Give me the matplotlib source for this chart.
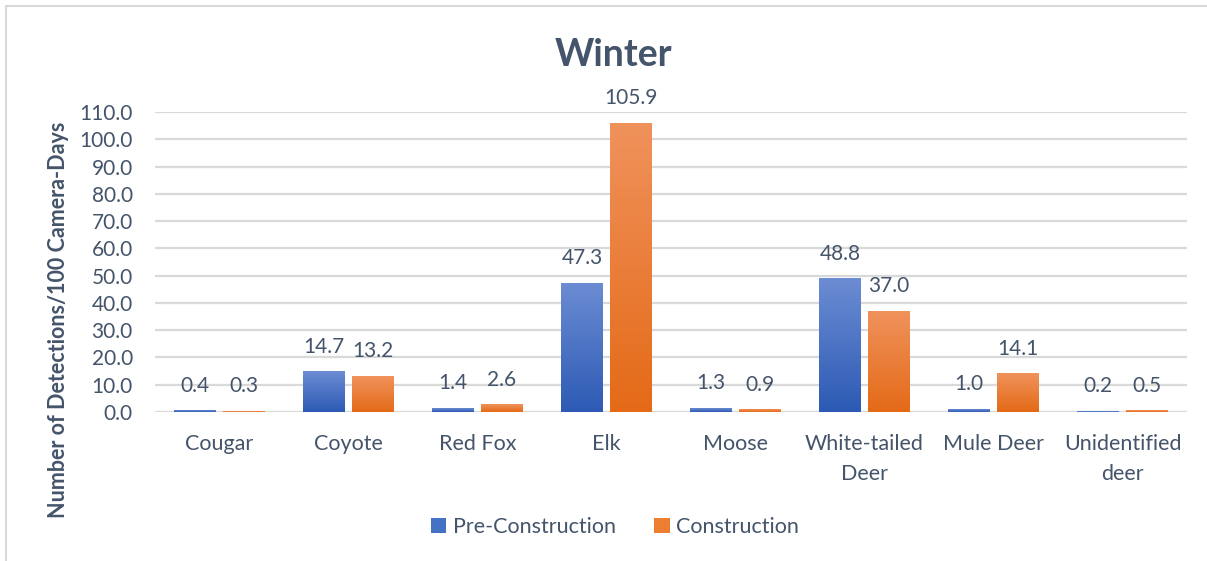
import numpy as np
import matplotlib
matplotlib.use("Agg")
import matplotlib.pyplot as plt
from matplotlib.colors import LinearSegmentedColormap
from matplotlib.patches import Patch, Rectangle

# ── Data ────────────────────────────────────────────────────
categories = ["Cougar", "Coyote", "Red Fox", "Elk", "Moose",
              "White-tailed\nDeer", "Mule Deer", "Unidentified\ndeer"]
pre_construction = [0.4, 14.7, 1.4, 47.3, 1.3, 48.8, 1.0, 0.2]
construction     = [0.3, 13.2, 2.6, 105.9, 0.9, 37.0, 14.1, 0.5]
y_ticks = np.arange(0, 111, 10)

# ── Style ───────────────────────────────────────────────────
TEXT_COLOR = "#44546A"
GRID_COLOR = "#D9D9D9"
BLUE_TOP, BLUE_BOTTOM = "#6C8CD3", "#2C5AB4"
ORANGE_TOP, ORANGE_BOTTOM = "#F0925C", "#E46A17"
plt.rcParams["font.family"] = ["Lato", "DejaVu Sans"]

W, H = 1207, 561
fig = plt.figure(figsize=(W / 100, H / 100), dpi=100)
ax = fig.add_axes([155 / W, 1 - 412 / H, (1187 - 155) / W, 300 / H])

x = np.arange(len(categories))
bar_w = 0.32
gap = 0.06

bars_pre = ax.bar(x - (bar_w + gap) / 2, pre_construction, bar_w, zorder=3)
bars_con = ax.bar(x + (bar_w + gap) / 2, construction, bar_w, zorder=3)


def gradient_fill(bars, top, bottom):
    cmap = LinearSegmentedColormap.from_list("g", [bottom, top])
    grad = np.linspace(0, 1, 256).reshape(-1, 1)
    for b in bars:
        b.set_facecolor("none")
        b.set_edgecolor("none")
        x0, w, h = b.get_x(), b.get_width(), b.get_height()
        ax.imshow(grad, cmap=cmap, origin="lower", aspect="auto",
                  extent=[x0, x0 + w, 0, h], zorder=3, interpolation="bicubic")


gradient_fill(bars_pre, BLUE_TOP, BLUE_BOTTOM)
gradient_fill(bars_con, ORANGE_TOP, ORANGE_BOTTOM)
ax.set_xlim(-0.5, len(categories) - 0.5)
ax.set_ylim(0, 110)

# value labels above bars
for bars, vals in ((bars_pre, pre_construction), (bars_con, construction)):
    for b, v in zip(bars, vals):
        ax.annotate(f"{v:.1f}", (b.get_x() + b.get_width() / 2, v),
                    xytext=(0, 18), textcoords="offset points",
                    ha="center", va="center", fontsize=15, color=TEXT_COLOR)

# axes
ax.set_yticks(y_ticks)
ax.set_yticklabels([f"{t:.1f}" for t in y_ticks])
ax.set_xticks(x)
ax.set_xticklabels(categories, linespacing=1.6)
ax.tick_params(axis="y", length=0, pad=16, labelsize=15, labelcolor=TEXT_COLOR)
ax.tick_params(axis="x", length=0, pad=16, labelsize=15.5, labelcolor=TEXT_COLOR)
for s in ax.spines.values():
    s.set_visible(False)
ax.yaxis.grid(True, color=GRID_COLOR, linewidth=1.6, zorder=0)
ax.set_axisbelow(True)

ax.set_ylabel("Number of Detections/100 Camera-Days", fontsize=15.5,
              fontweight="bold", color=TEXT_COLOR)
ax.yaxis.set_label_coords(-86 / (1187 - 155), (412 - 320) / 300)

fig.text(0.508, 1 - 55 / H, "Winter", ha="center", va="center",
         fontsize=27, fontweight="bold", color=TEXT_COLOR)

handles = [Patch(facecolor="#4472C4", label="Pre-Construction"),
           Patch(facecolor="#ED7D31", label="Construction")]
fig.legend(handles=handles, loc="center", bbox_to_anchor=(615 / W, 1 - 527 / H),
           ncol=2, frameon=False, fontsize=15.5, handlelength=0.7,
           handleheight=0.7, handletextpad=0.3, columnspacing=1.8,
           labelcolor=TEXT_COLOR)

# chart frame (top and left edges visible)
fig.add_artist(Rectangle((6 / W, -0.5), 2, 1.5 - 6 / H, transform=fig.transFigure,
                         fill=False, edgecolor=GRID_COLOR, linewidth=1.5))

fig.savefig("out.png", dpi=100)
